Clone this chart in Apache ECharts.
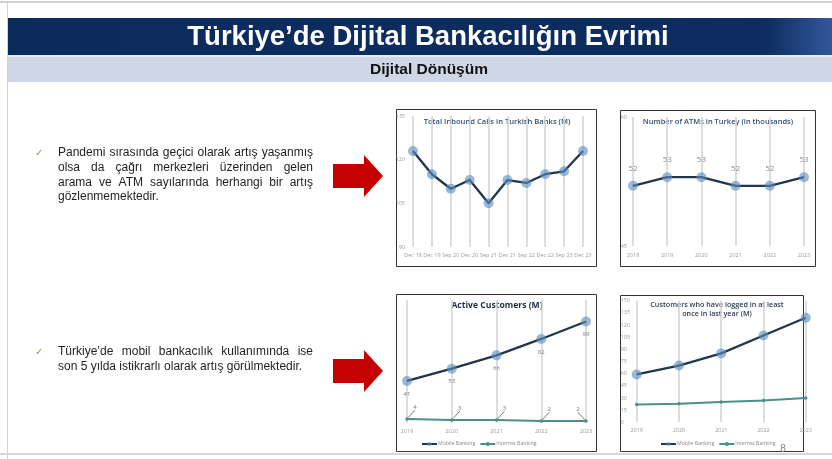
<!DOCTYPE html>
<html><head><meta charset="utf-8">
<script src="https://cdn.jsdelivr.net/npm/echarts@6/dist/echarts.min.js"></script>
<style>html,body{margin:0;padding:0;background:#fff}#c{width:832px;height:459px}</style>
</head><body><div id="c"></div><script>
// Quarterly inbound call volume (millions)
const callCategories = ['Dec 18','Dec 19','Sep 20','Dec 20','Sep 21','Dec 21','Sep 22','Dec 22','Sep 23','Dec 23'];
const callValues = [123, 115, 110, 113, 105, 113, 112, 115, 116, 123];
const callTicks = [90, 135, 15];

// ATM count (thousands)
const atmYears = ['2018','2019','2020','2021','2022','2023'];
const atmValues = [52, 53, 53, 52, 52, 53];
const atmTicks = [45, 60, 15];

// Customer figures (millions)
const custYears = ['2019','2020','2021','2022','2023'];
const activeMobile = [41, 53, 66, 82, 99];
const activeInternet = [4, 3, 3, 2, 2];
const loginMobile = [59, 70, 85, 107, 129];
const loginInternet = [22, 23, 25, 27, 30];
const loginTicks = [0, 150, 15];

const seriesNames = ['Mobile Banking', 'Internet Banking'];

const pageTitle = 'Türkiye’de Dijital Bankacılığın Evrimi';
const pageSubtitle = 'Dijital Dönüşüm';
const bullet1 = ['Pandemi sırasında geçici olarak artış yaşanmış', 'olsa da çağrı merkezleri üzerinden gelen', 'arama ve ATM sayılarında herhangi bir artış', 'gözlenmemektedir.'];
const bullet2 = ['Türkiye’de mobil bankacılık kullanımında ise', 'son 5 yılda istikrarlı olarak artış görülmektedir.'];

const BODY_FONT = '12px "Liberation Sans", Arial, sans-serif';
const CHART_FONT = '"Open Sans", "Noto Sans", sans-serif';
const NAVY = '#20364f';
const MARK = 'rgba(92,140,192,0.62)';
const TEAL = '#4b8f8b';

const measure = document.createElement('canvas').getContext('2d');

// Lay out a paragraph with justified lines (last line left-aligned)
function justified(lines, x0, x1, y0, lh) {
  measure.font = BODY_FONT;
  const out = [];
  lines.forEach((line, i) => {
    const words = line.split(' ');
    const widths = words.map(w => measure.measureText(w).width);
    const total = widths.reduce((a, b) => a + b, 0);
    const last = i === lines.length - 1;
    const gap = (last || words.length < 2) ? measure.measureText(' ').width : (x1 - x0 - total) / (words.length - 1);
    let x = x0;
    words.forEach((w, j) => {
      out.push({ type: 'text', x: x, y: y0 + i * lh, silent: true,
        style: { text: w, font: BODY_FONT, fill: '#1e1e1e', textVerticalAlign: 'middle' } });
      x += widths[j] + gap;
    });
  });
  return out;
}

function arrow(cy) {
  return { type: 'polygon', silent: true,
    shape: { points: [[333, cy - 12], [364, cy - 12], [364, cy - 21], [383, cy], [364, cy + 21], [364, cy + 12], [333, cy + 12]] },
    style: { fill: '#c40000' } };
}

function frame(x, y, w, h) {
  return { type: 'rect', silent: true, shape: { x: x, y: y, width: w, height: h },
    style: { fill: 'none', stroke: '#333', lineWidth: 1 } };
}

function label(text, x, y, size, weight, color) {
  return { type: 'text', x: x, y: y, silent: true,
    style: { text: text, font: weight + ' ' + size + 'px ' + CHART_FONT, fill: color, textAlign: 'center', textVerticalAlign: 'middle' } };
}

const graphics = [
  { type: 'rect', silent: true, shape: { x: 0, y: 1, width: 832, height: 2 }, style: { fill: '#cfcfcf' } },
  { type: 'rect', silent: true, shape: { x: 7, y: 1, width: 1, height: 458 }, style: { fill: '#d0d0d0' } },
  { type: 'rect', silent: true, shape: { x: 0, y: 453, width: 832, height: 2 }, style: { fill: '#d6d6d6' } },
  { type: 'rect', silent: true, shape: { x: 8, y: 18, width: 824, height: 37 },
    style: { fill: new echarts.graphic.LinearGradient(0, 0, 1, 0, [
      { offset: 0, color: '#0c2b5d' }, { offset: 0.92, color: '#0d2d60' }, { offset: 1, color: '#34579a' }]) } },
  { type: 'rect', silent: true, shape: { x: 8, y: 55, width: 824, height: 2 }, style: { fill: '#e8ecf4' } },
  { type: 'rect', silent: true, shape: { x: 8, y: 57, width: 824, height: 25 }, style: { fill: '#cfd6e5' } },
  { type: 'text', x: 428, y: 37, silent: true,
    style: { text: pageTitle, font: 'bold 27.5px "Liberation Sans", Arial, sans-serif', fill: '#ffffff', textAlign: 'center', textVerticalAlign: 'middle' } },
  { type: 'text', x: 429, y: 70, silent: true,
    style: { text: pageSubtitle, font: 'bold 15.5px "Liberation Sans", Arial, sans-serif', fill: '#111', textAlign: 'center', textVerticalAlign: 'middle' } },
  { type: 'text', x: 35, y: 153, silent: true, style: { text: '✓', font: '10px "DejaVu Sans"', fill: '#6ea84e', textVerticalAlign: 'middle' } },
  { type: 'text', x: 35, y: 352, silent: true, style: { text: '✓', font: '10px "DejaVu Sans"', fill: '#6ea84e', textVerticalAlign: 'middle' } },
  ...justified(bullet1, 58, 313, 153, 14.7),
  ...justified(bullet2, 58, 313, 352, 14.2),
  arrow(176),
  arrow(371),
  frame(396.5, 109.5, 200, 157),
  frame(620.5, 110.5, 195, 156),
  frame(396.5, 294.5, 200, 157),
  frame(620.5, 295.5, 183, 156),
  label('Total Inbound Calls in Turkish Banks (M)', 497, 122, 7.6, 600, '#35506f'),
  label('Number of ATMs in Turkey (in thousands)', 718, 122, 7.5, 600, '#35506f'),
  label('Active Customers (M)', 497, 306, 8.6, 'bold', '#1f2e40'),
  label('Customers who have logged in at least', 717, 305, 7.2, 600, '#2d3e52'),
  label('once in last year (M)', 717, 313.5, 7.2, 600, '#2d3e52'),
  { type: 'text', x: 783, y: 449, silent: true, style: { text: '8', font: '10px "Liberation Sans", Arial', fill: '#888', textAlign: 'center', textVerticalAlign: 'middle' } }
];

function xAxis(idx, cats, margin) {
  return { type: 'category', gridIndex: idx, data: cats, boundaryGap: false,
    axisLine: { show: false }, axisTick: { show: false },
    splitLine: { show: true, lineStyle: { color: '#d2d2d2', width: 1.5 } },
    axisLabel: { interval: 0, fontSize: 5.5, color: '#9a9a9a', margin: margin, fontFamily: CHART_FONT, hideOverlap: false } };
}
function yAxis(idx, ticks, labelOpt) {
  return { type: 'value', gridIndex: idx, min: ticks[0], max: ticks[1], interval: ticks[2],
    splitLine: { show: false }, axisLine: { show: false }, axisTick: { show: false },
    axisLabel: Object.assign({ fontSize: 5.5, color: '#9a9a9a', fontFamily: CHART_FONT }, labelOpt) };
}
function bigLine(name, idx, data, extra) {
  return Object.assign({ name: name, type: 'line', xAxisIndex: idx, yAxisIndex: idx, data: data,
    symbol: 'circle', symbolSize: 10, lineStyle: { color: NAVY, width: 2.3 },
    itemStyle: { color: MARK }, emphasis: { disabled: true }, z: 3 }, extra || {});
}
function smallLine(name, idx, data, extra) {
  return Object.assign({ name: name, type: 'line', xAxisIndex: idx, yAxisIndex: idx, data: data,
    symbol: 'circle', symbolSize: 3.5, lineStyle: { color: TEAL, width: 2 },
    itemStyle: { color: TEAL }, emphasis: { disabled: true }, z: 3 }, extra || {});
}

const legendBase = { orient: 'horizontal', padding: 0, itemWidth: 15, itemHeight: 5, itemGap: 4,
  textStyle: { fontSize: 5.2, color: '#8a8a8a', fontFamily: CHART_FONT, padding: [0, 0, 0, -4] }, data: seriesNames, selectedMode: false };

const option = {
  animation: false,
  graphic: { elements: graphics },
  grid: [
    { left: 413, top: 116, width: 170, height: 131 },
    { left: 633, top: 117, width: 171, height: 129 },
    { left: 407, top: 300, width: 179, height: 123 },
    { left: 636.7, top: 300.7, width: 169, height: 121.6 }
  ],
  xAxis: [xAxis(0, callCategories, 5), xAxis(1, atmYears, 6), xAxis(2, custYears, 5), xAxis(3, custYears, 5)],
  yAxis: [
    yAxis(0, callTicks, { margin: 8 }),
    yAxis(1, atmTicks, { margin: 6 }),
    yAxis(2, [0, 120, 20], { show: false }),
    yAxis(3, loginTicks, { margin: 16, align: 'left' })
  ],
  legend: [
    Object.assign({ left: 421, top: 441.5 }, legendBase),
    Object.assign({ left: 660, top: 441.5 }, legendBase)
  ],
  series: [
    bigLine('calls', 0, callValues),
    bigLine('atms', 1, atmValues, {
      label: { show: true, position: 'top', distance: 8, fontSize: 8, color: '#8c8c8c', fontFamily: CHART_FONT } }),
    bigLine(seriesNames[0], 2, activeMobile, {
      label: { show: true, position: 'bottom', distance: 5, fontSize: 6, color: '#7a7a7a', fontFamily: CHART_FONT } }),
    smallLine(seriesNames[1], 2, activeInternet, {
      label: { show: true, position: 'top', distance: 2, fontSize: 6, color: '#7a7a7a', fontFamily: CHART_FONT },
      labelLine: { show: true, lineStyle: { color: '#555', width: 0.8 } },
      labelLayout: function (p) { return { dx: p.dataIndex === activeInternet.length - 1 ? -8 : 8, dy: -5 }; } }),
    bigLine(seriesNames[0], 3, loginMobile),
    smallLine(seriesNames[1], 3, loginInternet)
  ]
};

const chart = echarts.init(document.getElementById('c'), null, { renderer: 'canvas' });
chart.setOption(option);
</script></body></html>
